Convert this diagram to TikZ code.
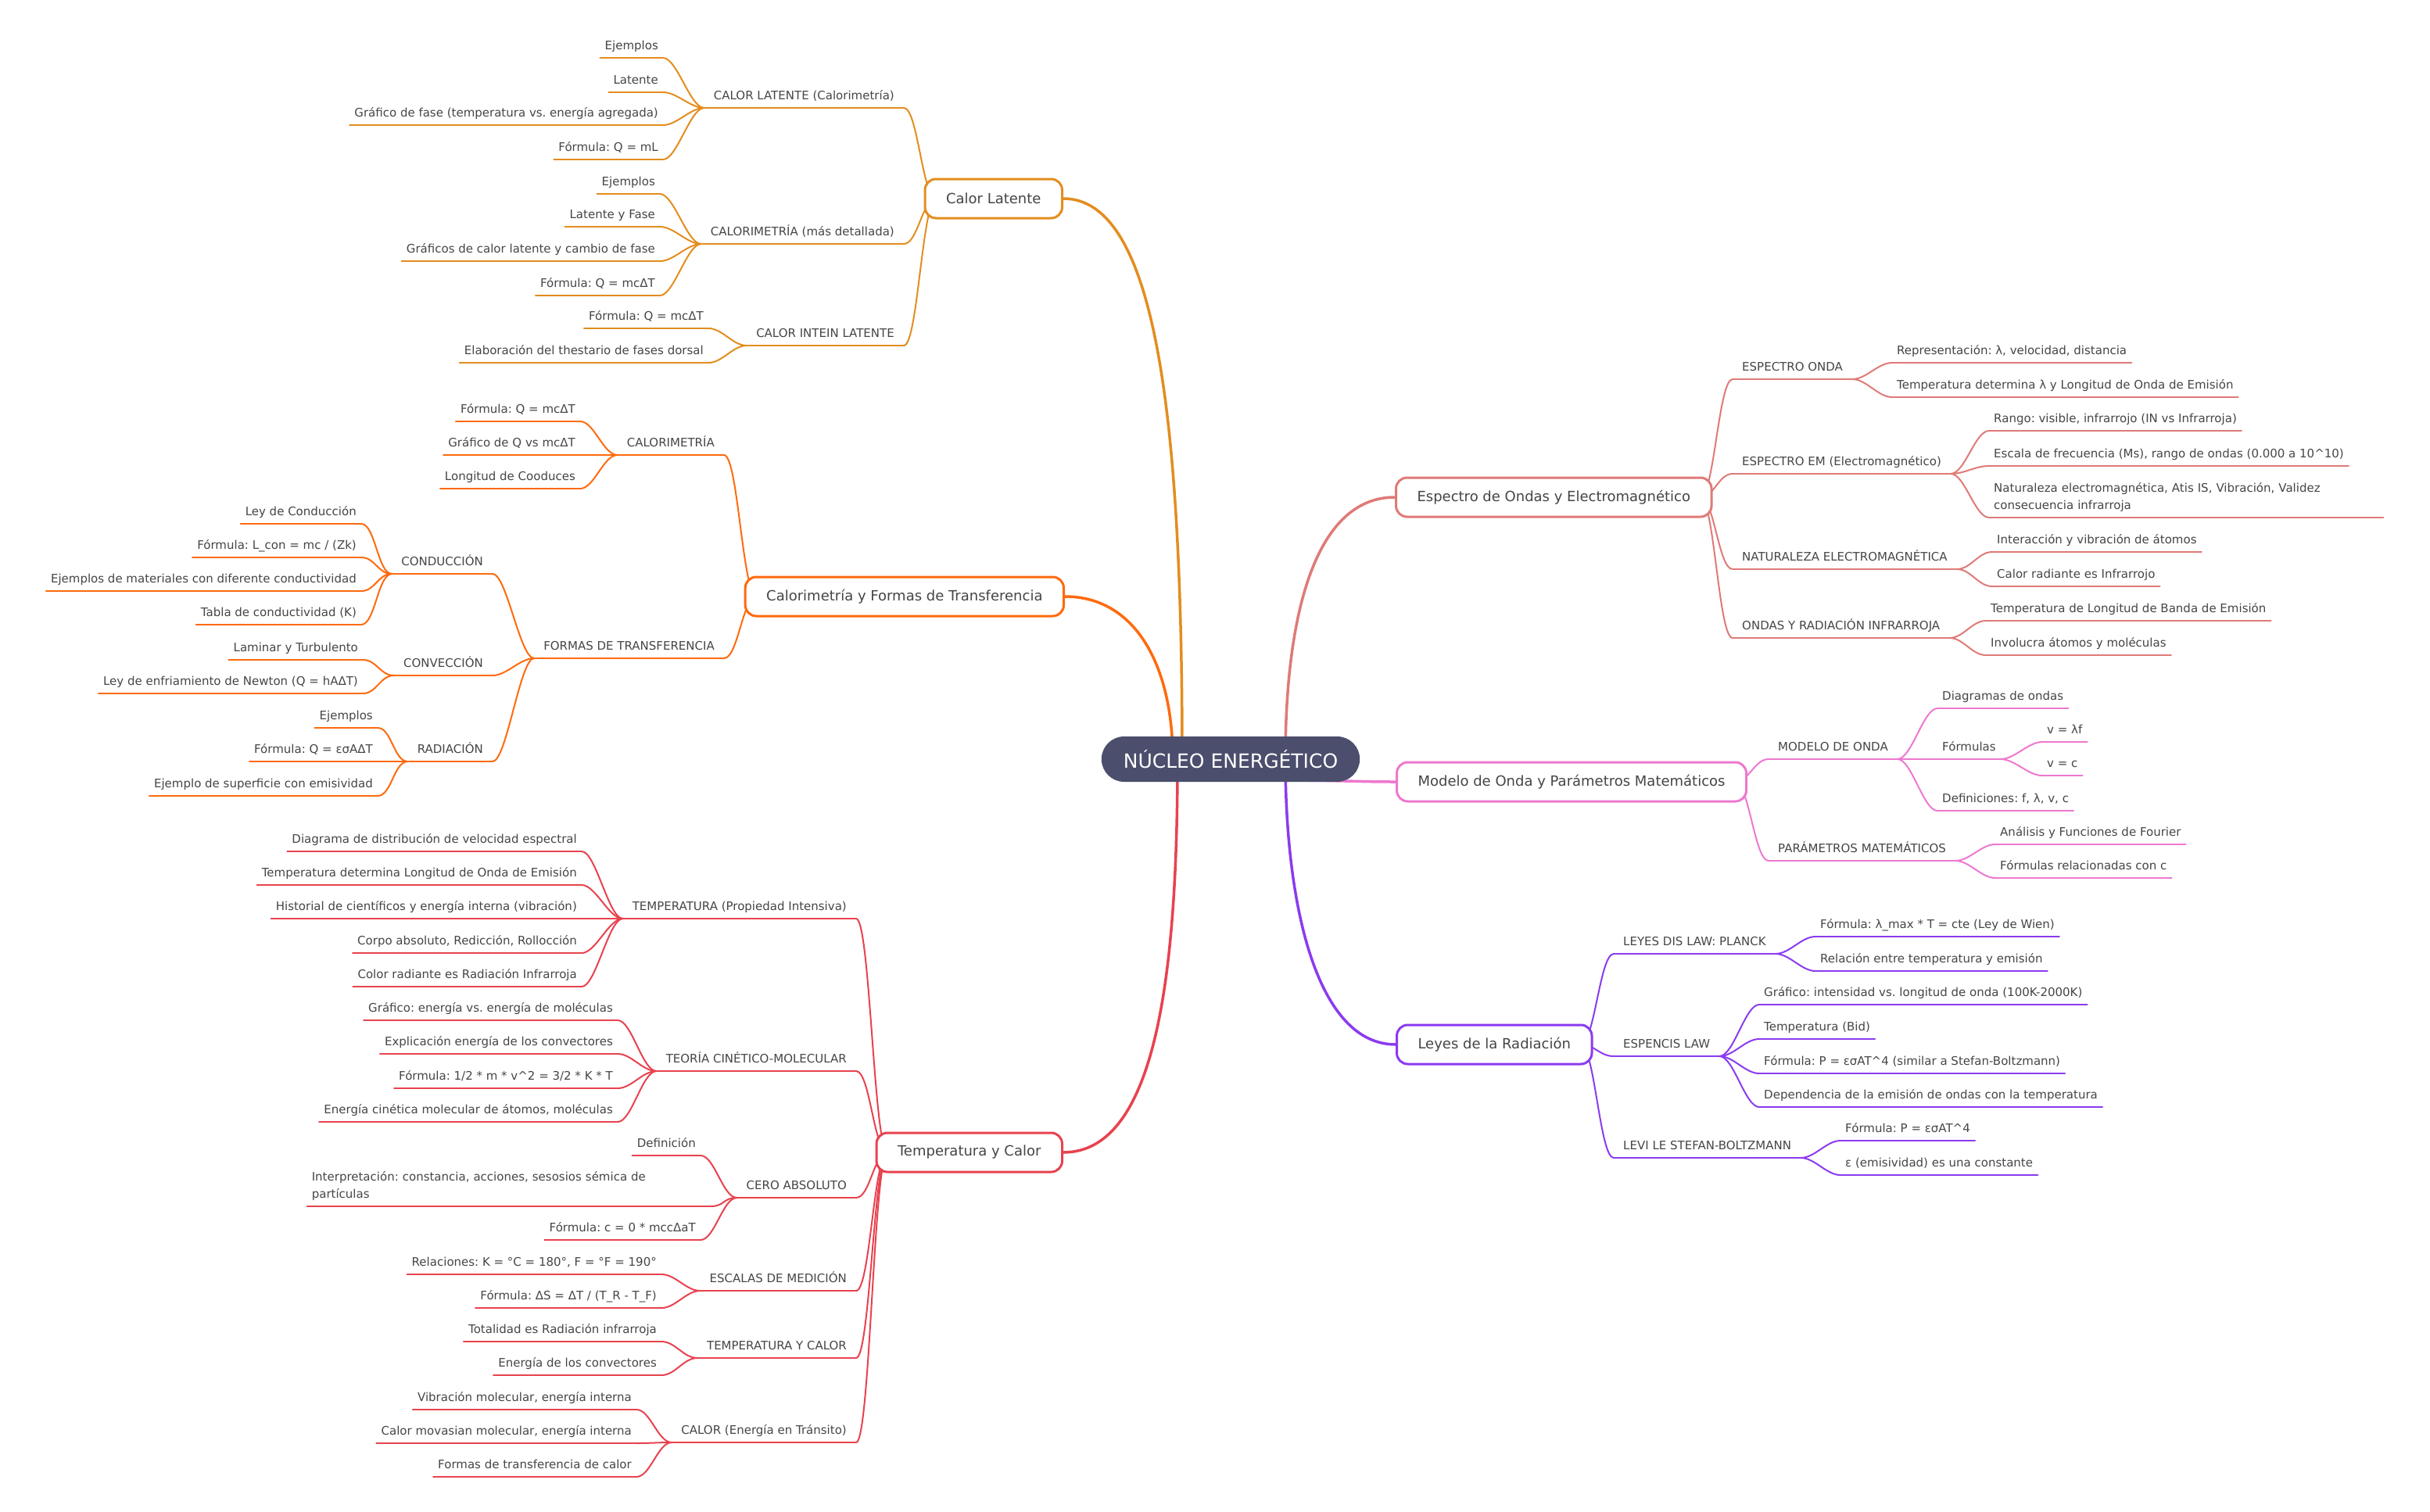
\documentclass[tikz,border=0pt]{standalone}
\usepackage{fontspec}
\setmainfont{DejaVu Sans}
\frenchspacing
\usetikzlibrary{calc}
\definecolor{cLat}{HTML}{E38D1F}
\definecolor{cCal}{HTML}{FF6A0E}
\definecolor{cTem}{HTML}{E8424F}
\definecolor{cEsp}{HTML}{DF7A77}
\definecolor{cMod}{HTML}{EE78CF}
\definecolor{cLey}{HTML}{8B3BEF}
\definecolor{cCore}{HTML}{4B4E6C}
\definecolor{txtgray}{HTML}{454545}
\pgfdeclarelayer{bg}
\pgfsetlayers{bg,main}
\tikzset{
  lbl/.style={font=\fontsize{15}{22}\selectfont, text=txtgray, text depth=0pt, inner ysep=10pt},
  leafL/.style={lbl, anchor=south east, inner xsep=6pt},
  leafR/.style={lbl, anchor=south west, inner xsep=6pt},
  subL/.style={lbl, anchor=south east, inner xsep=12pt},
  subR/.style={lbl, anchor=south west, inner xsep=12pt},
  twoline/.style={text width=#1, align=left, text depth=22pt},
  topic/.style={draw=#1, line width=3pt, rounded corners=14pt, fill=white, text=txtgray,
    font=\fontsize{18}{22}\selectfont, inner xsep=27pt, minimum height=50pt},
  core/.style={fill=cCore, rounded corners=29pt, text=white, font=\fontsize{25}{30}\selectfont,
    inner xsep=28pt, minimum height=58pt},
  ul/.style={line width=2pt, line cap=round},
  main/.style={line width=3.5pt, line cap=round},
  lk/.style={out=0, in=180, out distance=18pt, in distance=18pt}
}
\begin{document}
\begin{tikzpicture}[x=2pt,y=-2pt]
\useasboundingbox (0,0) rectangle (1554,966.5);

\node[core] (nucleo) at (787,485.5) {NÚCLEO ENERGÉTICO};

% Calor Latente
\node[topic=cLat, anchor=east] (lat) at (680,127) {Calor Latente};
\node[subL] (lat1) at (578,69) {CALOR LATENTE (Calorimetría)};
\node[subL] (lat2) at (578,156) {CALORIMETRÍA (más detallada)};
\node[subL] (lat3) at (578,221) {CALOR INTEIN LATENTE};
\node[leafL] (lat1a) at (424,37) {Ejemplos};
\node[leafL] (lat1b) at (424,59) {Latente};
\node[leafL] (lat1c) at (424,80) {Gráfico de fase (temperatura vs. energía agregada)};
\node[leafL] (lat1d) at (424,102) {Fórmula: Q = mL};
\node[leafL] (lat2a) at (422,124) {Ejemplos};
\node[leafL] (lat2b) at (422,145) {Latente y Fase};
\node[leafL] (lat2c) at (422,167) {Gráficos de calor latente y cambio de fase};
\node[leafL] (lat2d) at (422,189) {Fórmula: Q = mcΔT};
\node[leafL] (lat3a) at (453,210) {Fórmula: Q = mcΔT};
\node[leafL] (lat3b) at (453,232) {Elaboración del thestario de fases dorsal};

% Calorimetria y formas
\node[topic=cCal, anchor=east] (cal) at (681,381.5) {Calorimetría y Formas de Transferencia};
\node[subL] (cal1) at (463,291) {CALORIMETRÍA};
\node[subL] (cal2) at (463,421) {FORMAS DE TRANSFERENCIA};
\node[leafL] (cal1a) at (371,269.5) {Fórmula: Q = mcΔT};
\node[leafL] (cal1b) at (371,291) {Gráfico de Q vs mcΔT};
\node[leafL] (cal1c) at (371,312.5) {Longitud de Cooduces};
\node[subL] (cal2a) at (315,367) {CONDUCCIÓN};
\node[subL] (cal2b) at (315,432) {CONVECCIÓN};
\node[subL] (cal2c) at (315,487) {RADIACIÓN};
\node[leafL] (cal2a1) at (231,335) {Ley de Conducción};
\node[leafL] (cal2a2) at (231,356.5) {Fórmula: L\_con = mc / (Zk)};
\node[leafL] (cal2a3) at (231,378) {Ejemplos de materiales con diferente conductividad};
\node[leafL] (cal2a4) at (231,399.5) {Tabla de conductividad (K)};
\node[leafL] (cal2b1) at (232,422) {Laminar y Turbulento};
\node[leafL] (cal2b2) at (232,443.5) {Ley de enfriamiento de Newton (Q = hAΔT)};
\node[leafL] (cal2c1) at (241.5,465.5) {Ejemplos};
\node[leafL] (cal2c2) at (241.5,487) {Fórmula: Q = εσAΔT};
\node[leafL] (cal2c3) at (241.5,509) {Ejemplo de superficie con emisividad};

% Temperatura y Calor
\node[topic=cTem, anchor=east] (tem) at (680,737) {Temperatura y Calor};
\node[subL] (tem1) at (547.5,587.5) {TEMPERATURA (Propiedad Intensiva)};
\node[subL] (tem2) at (547.5,685) {TEORÍA CINÉTICO-MOLECULAR};
\node[subL] (tem3) at (547.5,766) {CERO ABSOLUTO};
\node[subL] (tem4) at (547.5,825.5) {ESCALAS DE MEDICIÓN};
\node[subL] (tem5) at (547.5,868.5) {TEMPERATURA Y CALOR};
\node[subL] (tem6) at (547.5,922.5) {CALOR (Energía en Tránsito)};
\node[leafL] (tem1a) at (372,544.5) {Diagrama de distribución de velocidad espectral};
\node[leafL] (tem1b) at (372,566) {Temperatura determina Longitud de Onda de Emisión};
\node[leafL] (tem1c) at (372,587.5) {Historial de científicos y energía interna (vibración)};
\node[leafL] (tem1d) at (372,609.5) {Corpo absoluto, Redicción, Rollocción};
\node[leafL] (tem1e) at (372,631) {Color radiante es Radiación Infrarroja};
\node[leafL] (tem2a) at (395,652.5) {Gráfico: energía vs. energía de moléculas};
\node[leafL] (tem2b) at (395,674) {Explicación energía de los convectores};
\node[leafL] (tem2c) at (395,696) {Fórmula: 1/2 * m * v\textasciicircum 2 = 3/2 * K * T};
\node[leafL] (tem2d) at (395,717.5) {Energía cinética molecular de átomos, moléculas};
\node[leafL] (tem3a) at (448,739) {Definición};
\node[leafL, twoline=504pt] (tem3b) at (454.5,771.5)
  {Interpretación: constancia, acciones, sesosios sémica de\\partículas};
\node[leafL] (tem3c) at (448,793) {Fórmula: c = 0 * mccΔaT};
\node[leafL] (tem4a) at (423,815) {Relaciones: K = °C = 180°, F = °F = 190°};
\node[leafL] (tem4b) at (423,836.5) {Fórmula: ΔS = ΔT / (T\_R - T\_F)};
\node[leafL] (tem5a) at (423,858) {Totalidad es Radiación infrarroja};
\node[leafL] (tem5b) at (423,879.5) {Energía de los convectores};
\node[leafL] (tem6a) at (407,901.5) {Vibración molecular, energía interna};
\node[leafL] (tem6b) at (407,923) {Calor movasian molecular, energía interna};
\node[leafL] (tem6c) at (407,944.5) {Formas de transferencia de calor};

% Espectro
\node[topic=cEsp, anchor=west] (esp) at (892,318) {Espectro de Ondas y Electromagnético};
\node[subR] (esp1) at (1108,242.5) {ESPECTRO ONDA};
\node[subR] (esp2) at (1108,303) {ESPECTRO EM (Electromagnético)};
\node[subR] (esp3) at (1108,364) {NATURALEZA ELECTROMAGNÉTICA};
\node[subR] (esp4) at (1108,408) {ONDAS Y RADIACIÓN INFRARROJA};
\node[leafR] (esp1a) at (1210,232) {Representación: λ, velocidad, distancia};
\node[leafR] (esp1b) at (1210,254) {Temperatura determina λ y Longitud de Onda de Emisión};
\node[leafR] (esp2a) at (1272,275.5) {Rango: visible, infrarrojo (IN vs Infrarroja)};
\node[leafR] (esp2b) at (1272,298) {Escala de frecuencia (Ms), rango de ondas (0.000 a 10\textasciicircum 10)};
\node[leafR, twoline=492pt] (esp2c) at (1272,331)
  {Naturaleza electromagnética, Atis IS, Vibración, Validez\\consecuencia infrarroja};
\node[leafR] (esp3a) at (1274,353) {Interacción y vibración de átomos};
\node[leafR] (esp3b) at (1274,375) {Calor radiante es Infrarrojo};
\node[leafR] (esp4a) at (1270,397) {Temperatura de Longitud de Banda de Emisión};
\node[leafR] (esp4b) at (1270,419) {Involucra átomos y moléculas};

% Modelo de onda
\node[topic=cMod, anchor=west] (mod) at (892.5,500) {Modelo de Onda y Parámetros Matemáticos};
\node[subR] (mod1) at (1131,485.5) {MODELO DE ONDA};
\node[subR] (mod2) at (1131,550.5) {PARÁMETROS MATEMÁTICOS};
\node[leafR] (mod1a) at (1239,453) {Diagramas de ondas};
\node[leafR] (mod1b) at (1239,485.5) {Fórmulas};
\node[leafR] (mod1c) at (1239,518.5) {Definiciones: f, λ, v, c};
\node[leafR] (mod1b1) at (1306,474.5) {v = λf};
\node[leafR] (mod1b2) at (1306,496) {v = c};
\node[leafR] (mod2a) at (1276,540) {Análisis y Funciones de Fourier};
\node[leafR] (mod2b) at (1276,561.5) {Fórmulas relacionadas con c};

% Leyes
\node[topic=cLey, anchor=west] (ley) at (892.5,668) {Leyes de la Radiación};
\node[subR] (ley1) at (1032,610) {LEYES DIS LAW: PLANCK};
\node[subR] (ley2) at (1032,675.5) {ESPENCIS LAW};
\node[subR] (ley3) at (1032,740.5) {LEVI LE STEFAN-BOLTZMANN};
\node[leafR] (ley1a) at (1161,599) {Fórmula: λ\_max * T = cte (Ley de Wien)};
\node[leafR] (ley1b) at (1161,621) {Relación entre temperatura y emisión};
\node[leafR] (ley2a) at (1125,642.5) {Gráfico: intensidad vs. longitud de onda (100K-2000K)};
\node[leafR] (ley2b) at (1125,664.5) {Temperatura (Bid)};
\node[leafR] (ley2c) at (1125,686.5) {Fórmula: P = εσAT\textasciicircum 4 (similar a Stefan-Boltzmann)};
\node[leafR] (ley2d) at (1125,708) {Dependencia de la emisión de ondas con la temperatura};
\node[leafR] (ley3a) at (1177,729.5) {Fórmula: P = εσAT\textasciicircum 4};
\node[leafR] (ley3b) at (1177,751.5) {ε (emisividad) es una constante};

\begin{pgfonlayer}{bg}
% trunk lines
\draw[main,cLat] (lat.east) .. controls +(60,0) and +(0,-215) .. ($(nucleo.center)+(-31,0)$);
\draw[main,cCal] (cal.east) .. controls +(45,0) and +(0,-60) .. ($(nucleo.center)+(-37,0)$);
\draw[main,cTem] (tem.east) .. controls +(60,0) and +(0,135) .. ($(nucleo.center)+(-34,0)$);
\draw[main,cEsp] ($(nucleo.center)+(35,0)$) .. controls +(0,-95) and +(-50,0) .. (esp.west);
\draw[main,cLey] ($(nucleo.center)+(35,0)$) .. controls +(0,95) and +(-50,0) .. (ley.west);
\draw[main,cMod] ($(nucleo.south)+(45,-1)$) to[out=0,in=180] (mod.west);

% left side
\foreach \n in {lat1,lat2,lat3,lat1a,lat1b,lat1c,lat1d,lat2a,lat2b,lat2c,lat2d,lat3a,lat3b}
  \draw[ul,cLat] (\n.south west) -- (\n.south east);
\foreach \a/\b in {lat1a/lat1,lat1b/lat1,lat1c/lat1,lat1d/lat1,lat2a/lat2,lat2b/lat2,lat2c/lat2,lat2d/lat2,lat3a/lat3,lat3b/lat3}
  \draw[ul,cLat] (\a.south east) to[lk] (\b.south west);
\foreach \a in {lat1,lat2,lat3}
  \draw[ul,cLat] (\a.south east) to[lk] ([xshift=16pt]lat.west);

\foreach \n in {cal1,cal2,cal1a,cal1b,cal1c,cal2a,cal2b,cal2c,cal2a1,cal2a2,cal2a3,cal2a4,cal2b1,cal2b2,cal2c1,cal2c2,cal2c3}
  \draw[ul,cCal] (\n.south west) -- (\n.south east);
\foreach \a/\b in {cal1a/cal1,cal1b/cal1,cal1c/cal1,cal2a/cal2,cal2b/cal2,cal2c/cal2,cal2a1/cal2a,cal2a2/cal2a,cal2a3/cal2a,cal2a4/cal2a,cal2b1/cal2b,cal2b2/cal2b,cal2c1/cal2c,cal2c2/cal2c,cal2c3/cal2c}
  \draw[ul,cCal] (\a.south east) to[lk] (\b.south west);
\foreach \a in {cal1,cal2}
  \draw[ul,cCal] (\a.south east) to[lk] ([xshift=16pt]cal.west);

\foreach \n in {tem1,tem2,tem3,tem4,tem5,tem6,tem1a,tem1b,tem1c,tem1d,tem1e,tem2a,tem2b,tem2c,tem2d,tem3a,tem3b,tem3c,tem4a,tem4b,tem5a,tem5b,tem6a,tem6b,tem6c}
  \draw[ul,cTem] (\n.south west) -- (\n.south east);
\foreach \a/\b in {tem1a/tem1,tem1b/tem1,tem1c/tem1,tem1d/tem1,tem1e/tem1,tem2a/tem2,tem2b/tem2,tem2c/tem2,tem2d/tem2,tem3a/tem3,tem3b/tem3,tem3c/tem3,tem4a/tem4,tem4b/tem4,tem5a/tem5,tem5b/tem5,tem6a/tem6,tem6b/tem6,tem6c/tem6}
  \draw[ul,cTem] (\a.south east) to[lk] (\b.south west);
\foreach \a in {tem1,tem2,tem3,tem4,tem5,tem6}
  \draw[ul,cTem] (\a.south east) to[lk] ([xshift=16pt]tem.west);

% right side
\foreach \n in {esp1,esp2,esp3,esp4,esp1a,esp1b,esp2a,esp2b,esp2c,esp3a,esp3b,esp4a,esp4b}
  \draw[ul,cEsp] (\n.south west) -- (\n.south east);
\foreach \a/\b in {esp1/esp1a,esp1/esp1b,esp2/esp2a,esp2/esp2b,esp2/esp2c,esp3/esp3a,esp3/esp3b,esp4/esp4a,esp4/esp4b}
  \draw[ul,cEsp] (\a.south east) to[lk] (\b.south west);
\foreach \b in {esp1,esp2,esp3,esp4}
  \draw[ul,cEsp] ([xshift=-16pt]esp.east) to[lk] (\b.south west);

\foreach \n in {mod1,mod2,mod1a,mod1b,mod1c,mod1b1,mod1b2,mod2a,mod2b}
  \draw[ul,cMod] (\n.south west) -- (\n.south east);
\foreach \a/\b in {mod1/mod1a,mod1/mod1b,mod1/mod1c,mod1b/mod1b1,mod1b/mod1b2,mod2/mod2a,mod2/mod2b}
  \draw[ul,cMod] (\a.south east) to[lk] (\b.south west);
\foreach \b in {mod1,mod2}
  \draw[ul,cMod] ([xshift=-16pt]mod.east) to[lk] (\b.south west);

\foreach \n in {ley1,ley2,ley3,ley1a,ley1b,ley2a,ley2b,ley2c,ley2d,ley3a,ley3b}
  \draw[ul,cLey] (\n.south west) -- (\n.south east);
\foreach \a/\b in {ley1/ley1a,ley1/ley1b,ley2/ley2a,ley2/ley2b,ley2/ley2c,ley2/ley2d,ley3/ley3a,ley3/ley3b}
  \draw[ul,cLey] (\a.south east) to[lk] (\b.south west);
\foreach \b in {ley1,ley2,ley3}
  \draw[ul,cLey] ([xshift=-16pt]ley.east) to[lk] (\b.south west);
\end{pgfonlayer}
\end{tikzpicture}
\end{document}
